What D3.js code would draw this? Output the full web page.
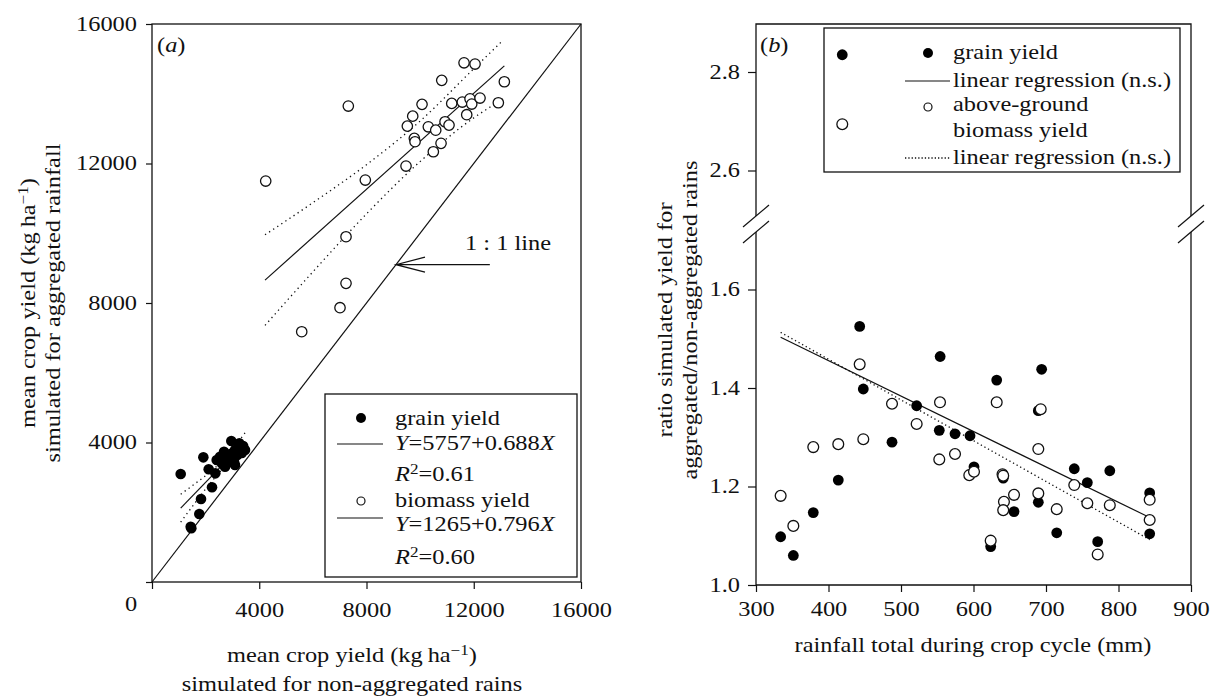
<!DOCTYPE html>
<html>
<head>
<meta charset="utf-8">
<script src="https://cdn.jsdelivr.net/npm/d3@7"></script>
<style>
  body { margin: 0; background: #fff; }
  text { font-family: 'Liberation Serif', 'Times New Roman', serif; fill: #111; }
</style>
</head>
<body>
<svg id="chart" width="1210" height="700"></svg>
<script>
// ---- panel (a): mean crop yield (kg/ha), non-aggregated (x) vs aggregated (y) rains
const grainA = [
  [1070, 3096], [1915, 3574], [1443, 1586], [1467, 1540], [1765, 1949], [1828, 2380],
  [2238, 2715], [2114, 3231], [2362, 3116], [2958, 4042], [3257, 3976], [3469, 3784],
  [3400, 3900], [2686, 3736], [2536, 3592], [2600, 3403], [2846, 3449], [2723, 3306],
  [3059, 3449], [3183, 3641], [3096, 3784], [3346, 3833], [2413, 3498], [3096, 3354],
  [2800, 3650], [2900, 3550], [3200, 3800], [2650, 3550], [3000, 3700], [3350, 3700]
];
const biomassA = [
  [11638, 14888], [12048, 14851], [10806, 14384], [13141, 14344], [7322, 13647],
  [10071, 13696], [11179, 13724], [11574, 13762], [11861, 13856], [11925, 13704],
  [12234, 13876], [12917, 13742], [11738, 13399], [9724, 13358], [9523, 13072],
  [10306, 13053], [10582, 12956], [10929, 13197], [11078, 13101], [9784, 12721],
  [9810, 12624], [10780, 12578], [10493, 12337], [9474, 11927], [4241, 11497],
  [7956, 11525], [7236, 9900], [7236, 8564], [7012, 7865], [5584, 7176]
];
// fitted lines [intercept, slope] and their x range
const grainFitA = [1265, 0.796], grainFitRangeA = [1070, 3469];
const biomassFitA = [5757, 0.688], biomassFitRangeA = [4215, 13141];
// confidence bands [x, lower, upper]
const grainBandA = [[1070, 1717, 2517], [1600, 2262, 2816], [2100, 2762, 3112],
  [2600, 3213, 3457], [3100, 3558, 3908], [3470, 3778, 4276]];
const biomassBandA = [[4215, 7358, 9956], [6000, 8894, 10876], [8000, 10556, 11966],
  [10000, 12057, 13217], [12000, 13308, 14718], [13100, 13850, 15540]];
const ticksA = [0, 4000, 8000, 12000, 16000];

// ---- panel (b): ratio aggregated/non-aggregated vs rainfall (mm)
const grainB = [
  [334, 1.098], [351.5, 1.060], [379, 1.147], [413.5, 1.213], [448, 1.398], [487.6, 1.290],
  [443, 1.525], [521.6, 1.364], [552.8, 1.314], [554, 1.464], [574.5, 1.307], [595.2, 1.303],
  [600.7, 1.240], [632, 1.416], [623.7, 1.078], [641, 1.217], [655.9, 1.149], [689.4, 1.354],
  [689.4, 1.168], [694, 1.438], [714.8, 1.106], [739, 1.236], [757, 1.208], [771.3, 1.088],
  [788, 1.232], [843, 1.187], [843, 1.104]
];
const biomassB = [
  [334, 1.181], [351.5, 1.120], [379, 1.280], [413.5, 1.286], [448, 1.296], [487.6, 1.368],
  [443, 1.448], [521.6, 1.327], [553.8, 1.371], [552.8, 1.255], [574.5, 1.266], [594.2, 1.223],
  [600.7, 1.230], [632, 1.371], [623.7, 1.090], [640, 1.225], [641, 1.222], [642, 1.169],
  [641, 1.152], [655.9, 1.183], [692.7, 1.357], [689.4, 1.276], [689.4, 1.186], [714.8, 1.154],
  [739, 1.203], [757, 1.166], [771.3, 1.062], [788, 1.162], [843, 1.173], [843, 1.132]
];
// points above the axis break
const grainHighB = [[419, 2.835]];
const biomassHighB = [[419, 2.694]];
const grainLineB = [[334, 1.503], [843, 1.137]];
const biomassLineB = [[334, 1.513], [843, 1.092]];
const ticksBx = [300, 400, 500, 600, 700, 800, 900];
const ticksBlow = [1.0, 1.2, 1.4, 1.6];
const ticksBhigh = [2.6, 2.8];

const S = 1.22;          // horizontal stretch of the lettering
const FS = 20;
const svg = d3.select('#chart');
svg.append('rect').attr('width', 1210).attr('height', 700).attr('fill', '#fff');

// text helper: parts = [{t, i (italic), sup}]
function rich(g, x, y, parts, opt = {}) {
  let t = g.append('text')
    .attr('transform', `translate(${x},${y}) rotate(${opt.rot || 0}) scale(${S},1)`)
    .attr('text-anchor', opt.anchor || 'start')
    .style('font-size', (opt.size || FS) + 'px');
  if (typeof parts === 'string') parts = [{ t: parts }];
  let shifted = false;
  parts.forEach(p => {
    let ts = t.append('tspan').text(p.t);
    if (p.i) ts.style('font-style', 'italic');
    if (p.sup) { ts.attr('dy', -7).style('font-size', '14px'); shifted = true; }
    else if (shifted) { ts.attr('dy', 7); shifted = false; }
  });
  return t;
}

function styleAxis(g, side, off) {
  g.select('.domain').remove();
  g.selectAll('.tick line').attr('stroke', '#111').attr('stroke-width', 1.2);
  g.selectAll('.tick text').style('font-size', FS + 'px').attr('fill', '#111')
    .attr('transform', `scale(${S},1)`);
  if (side === 'left') g.selectAll('.tick text').attr('x', -off / S);
}

const lineGen = (sx, sy) => d3.line().x(d => sx(d[0])).y(d => sy(d[1]));

// ================= panel (a)
const xA = d3.scaleLinear().domain([0, 16000]).range([152, 581]);
const yA = d3.scaleLinear().domain([0, 16000]).range([582, 24]);
const gA = svg.append('g');

gA.append('g').attr('transform', 'translate(0,582)')
  .call(d3.axisBottom(xA).tickValues(ticksA).tickSize(7).tickPadding(14)
    .tickFormat(d => d === 0 ? '' : d))
  .call(g => styleAxis(g, 'bottom'));
gA.append('g').attr('transform', 'translate(152,0)')
  .call(d3.axisLeft(yA).tickValues(ticksA).tickSize(6).tickFormat(d => d === 0 ? '' : d))
  .call(g => styleAxis(g, 'left', 15));
rich(gA, 131, 611, '0', { anchor: 'middle' });

gA.append('rect').attr('x', xA(0)).attr('y', yA(16000))
  .attr('width', xA(16000) - xA(0)).attr('height', yA(0) - yA(16000))
  .attr('fill', 'none').attr('stroke', '#111').attr('stroke-width', 1.3);

// 1:1 line
gA.append('path').attr('d', lineGen(xA, yA)([[0, 0], [16000, 16000]]))
  .attr('stroke', '#111').attr('stroke-width', 1.2).attr('fill', 'none');

// regression lines and bands
[[grainFitA, grainFitRangeA, grainBandA], [biomassFitA, biomassFitRangeA, biomassBandA]]
  .forEach(([fit, rng, band]) => {
    gA.append('path')
      .attr('d', lineGen(xA, yA)(rng.map(x => [x, fit[0] + fit[1] * x])))
      .attr('stroke', '#111').attr('stroke-width', 1.2).attr('fill', 'none');
    [1, 2].forEach(k => {
      gA.append('path')
        .attr('d', lineGen(xA, yA).curve(d3.curveMonotoneX)(band.map(b => [b[0], b[k]])))
        .attr('stroke', '#111').attr('stroke-width', 1.3).attr('fill', 'none')
        .attr('stroke-dasharray', '1.3,3.6');
    });
  });

gA.append('g').selectAll('circle').data(grainA).enter().append('circle')
  .attr('cx', d => xA(d[0])).attr('cy', d => yA(d[1])).attr('r', 5.3).attr('fill', '#000');
gA.append('g').selectAll('circle').data(biomassA).enter().append('circle')
  .attr('cx', d => xA(d[0])).attr('cy', d => yA(d[1])).attr('r', 5.2)
  .attr('fill', '#fff').attr('stroke', '#111').attr('stroke-width', 1.3);

// 1:1 annotation
const tipV = 9100, tailX = 12600;
gA.append('path')
  .attr('d', `M${xA(tailX)},${yA(tipV)}H${xA(tipV)}` +
    `M${xA(tipV) + 29},${yA(tipV) - 7.5}L${xA(tipV)},${yA(tipV)}L${xA(tipV) + 29},${yA(tipV) + 7.5}`)
  .attr('stroke', '#111').attr('stroke-width', 1.2).attr('fill', 'none');
rich(gA, 465, 250, '1 : 1 line');
rich(gA, 157, 52, [{ t: '(' }, { t: 'a', i: true }, { t: ')' }]);

// legend (a)
const lgA = gA.append('g');
lgA.append('rect').attr('x', 325).attr('y', 394).attr('width', 252).attr('height', 183)
  .attr('fill', '#fff').attr('stroke', '#111').attr('stroke-width', 1.3);
lgA.append('circle').attr('cx', 361).attr('cy', 418).attr('r', 5).attr('fill', '#000');
lgA.append('circle').attr('cx', 361).attr('cy', 501).attr('r', 4).attr('fill', '#fff')
  .attr('stroke', '#111').attr('stroke-width', 1.2);
[444, 518].forEach(y => lgA.append('line').attr('x1', 337).attr('x2', 383)
  .attr('y1', y).attr('y2', y).attr('stroke', '#111').attr('stroke-width', 1.2));
rich(lgA, 395, 425, 'grain yield');
rich(lgA, 395, 450, [{ t: 'Y', i: true }, { t: '=5757+0.688' }, { t: 'X', i: true }]);
rich(lgA, 395, 481, [{ t: 'R', i: true }, { t: '2', sup: true }, { t: '=0.61' }]);
rich(lgA, 395, 507, 'biomass yield');
rich(lgA, 395, 531, [{ t: 'Y', i: true }, { t: '=1265+0.796' }, { t: 'X', i: true }]);
rich(lgA, 395, 564, [{ t: 'R', i: true }, { t: '2', sup: true }, { t: '=0.60' }]);

// titles (a)
rich(gA, 352, 662, [{ t: 'mean crop yield (kg\u2009ha' }, { t: '\u22121', sup: true }, { t: ')' }], { anchor: 'middle' });
rich(gA, 352, 691, 'simulated for non-aggregated rains', { anchor: 'middle' });
rich(gA, 35, 303, [{ t: 'mean crop yield (kg\u2009ha' }, { t: '\u22121', sup: true }, { t: ')' }], { anchor: 'middle', rot: -90 });
rich(gA, 60, 303, 'simulated for aggregated rainfall', { anchor: 'middle', rot: -90 });

// ================= panel (b)
const xB = d3.scaleLinear().domain([300, 900]).range([756, 1191]);
const yLo = d3.scaleLinear().domain([1.0, 1.6]).range([585, 289.5]);
const yHi = d3.scaleLinear().domain([2.6, 2.8]).range([170.5, 72]);
const gB = svg.append('g');
const frameTop = 24, frameBot = 585, brkHi = 216, brkLo = 232;

gB.append('g').attr('transform', `translate(0,${frameBot})`)
  .call(d3.axisBottom(xB).tickValues(ticksBx).tickSize(7).tickPadding(10))
  .call(g => styleAxis(g, 'bottom'));
gB.append('g').attr('transform', 'translate(756,0)')
  .call(d3.axisLeft(yLo).tickValues(ticksBlow).tickSize(8).tickFormat(d3.format('.1f')))
  .call(g => styleAxis(g, 'left', 16));
gB.append('g').attr('transform', 'translate(756,0)')
  .call(d3.axisLeft(yHi).tickValues(ticksBhigh).tickSize(8).tickFormat(d3.format('.1f')))
  .call(g => styleAxis(g, 'left', 16));

// frame with broken sides
const xl = xB(300), xr = xB(900);
gB.append('path')
  .attr('d', `M${xl},${brkHi}V${frameTop}H${xr}V${brkHi}M${xl},${brkLo}V${frameBot}H${xr}V${brkLo}`)
  .attr('stroke', '#111').attr('stroke-width', 1.3).attr('fill', 'none');
[xl, xr].forEach(x => [brkHi, brkLo].forEach(y => {
  gB.append('line').attr('x1', x - 13).attr('y1', y + 11).attr('x2', x + 13).attr('y2', y - 11)
    .attr('stroke', '#111').attr('stroke-width', 1.2);
}));

gB.append('path').attr('d', lineGen(xB, yLo)(grainLineB))
  .attr('stroke', '#111').attr('stroke-width', 1.2).attr('fill', 'none');
gB.append('path').attr('d', lineGen(xB, yLo)(biomassLineB))
  .attr('stroke', '#111').attr('stroke-width', 1.3).attr('fill', 'none')
  .attr('stroke-dasharray', '1.3,2.8');

function dots(data, sy, filled) {
  gB.append('g').selectAll('circle').data(data).enter().append('circle')
    .attr('cx', d => xB(d[0])).attr('cy', d => sy(d[1])).attr('r', 5.4)
    .attr('fill', filled ? '#000' : '#fff')
    .attr('stroke', filled ? 'none' : '#111').attr('stroke-width', 1.3);
}
dots(grainB, yLo, true);
dots(biomassB, yLo, false);

// legend (b)
const lgB = gB.append('g');
lgB.append('rect').attr('x', 824).attr('y', 28).attr('width', 356).attr('height', 144)
  .attr('fill', '#fff').attr('stroke', '#111').attr('stroke-width', 1.3);
lgB.append('circle').attr('cx', 928).attr('cy', 53).attr('r', 5).attr('fill', '#000');
lgB.append('circle').attr('cx', 928).attr('cy', 107).attr('r', 4).attr('fill', '#fff')
  .attr('stroke', '#111').attr('stroke-width', 1.2);
lgB.append('line').attr('x1', 905).attr('x2', 950).attr('y1', 81).attr('y2', 81)
  .attr('stroke', '#111').attr('stroke-width', 1.2);
lgB.append('line').attr('x1', 905).attr('x2', 950).attr('y1', 158).attr('y2', 158)
  .attr('stroke', '#111').attr('stroke-width', 1.3).attr('stroke-dasharray', '1.3,2');
rich(lgB, 953, 59, 'grain yield');
rich(lgB, 953, 87, 'linear regression (n.s.)');
rich(lgB, 953, 111, 'above-ground');
rich(lgB, 953, 137, 'biomass yield');
rich(lgB, 953, 164, 'linear regression (n.s.)');

// points above the break sit over the legend frame
dots(grainHighB, yHi, true);
dots(biomassHighB, yHi, false);

rich(gB, 760, 52, [{ t: '(' }, { t: 'b', i: true }, { t: ')' }]);
rich(gB, 973, 652, 'rainfall total during crop cycle (mm)', { anchor: 'middle' });
rich(gB, 672, 320, 'ratio simulated yield for', { anchor: 'middle', rot: -90 });
rich(gB, 697, 320, 'aggregated/non-aggregated rains', { anchor: 'middle', rot: -90 });
</script>
</body>
</html>
